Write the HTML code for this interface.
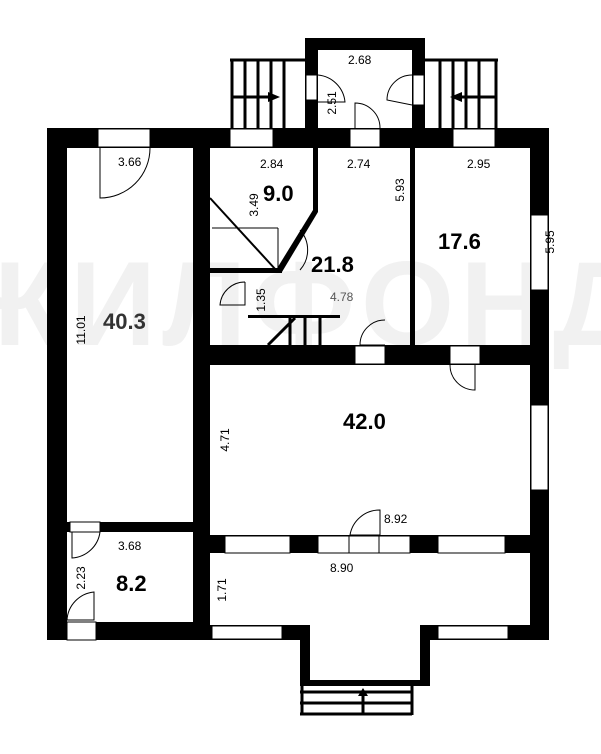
<!DOCTYPE html>
<html><head><meta charset="utf-8"><style>body{margin:0;background:#fff}svg{display:block}text{font-family:"Liberation Sans",sans-serif}</style></head><body>
<svg width="601" height="754" viewBox="0 0 601 754">
<text x="300" y="345" font-size="120" font-weight="bold" fill="#f1f1f1" text-anchor="middle" letter-spacing="6">ЖИЛФОНД</text>
<g fill="#000">
<rect x="47" y="128" width="502" height="20"/>
<rect x="47" y="128" width="20" height="512"/>
<rect x="530" y="128" width="19" height="512"/>
<rect x="193" y="148" width="17" height="492"/>
<rect x="47" y="622" width="163" height="18"/>
<rect x="67" y="522" width="126" height="10"/>
<rect x="193" y="345" width="356" height="20"/>
<rect x="210" y="535" width="320" height="18"/>
<rect x="210" y="625" width="90" height="15"/>
<rect x="430" y="625" width="119" height="15"/>
<rect x="300" y="625" width="10" height="60"/>
<rect x="420" y="625" width="10" height="60"/>
<rect x="300" y="680" width="130" height="6"/>
<rect x="305" y="38" width="120" height="12"/>
<rect x="305" y="38" width="13" height="90"/>
<rect x="412" y="38" width="13" height="90"/>
<rect x="410" y="148" width="5" height="200"/>
<rect x="313" y="148" width="5" height="64"/>
<polygon points="313,210 318,212 282,272 276,270"/>
<rect x="210" y="268" width="72" height="5"/>
<rect x="248" y="315" width="92" height="3"/>
</g>
<g fill="#fff" stroke="#000" stroke-width="1">
<rect x="98" y="129" width="52" height="18"/>
<rect x="230" y="129" width="43" height="18"/>
<rect x="350" y="129" width="30" height="18"/>
<rect x="453" y="129" width="42" height="18"/>
<rect x="531" y="215" width="17" height="75"/>
<rect x="531" y="405" width="17" height="85"/>
<rect x="355" y="346" width="30" height="18"/>
<rect x="450" y="346" width="30" height="18"/>
<rect x="70" y="522" width="30" height="10"/>
<rect x="67" y="622" width="29" height="18"/>
<rect x="225" y="536" width="65" height="17"/>
<rect x="318" y="536" width="92" height="17"/>
<rect x="438" y="536" width="67" height="17"/>
<rect x="212" y="626" width="70" height="13"/>
<rect x="438" y="626" width="70" height="13"/>
<rect x="306" y="75" width="11" height="25"/>
<rect x="413" y="75" width="11" height="30"/>
</g>
<g stroke="#000" stroke-width="1" fill="none">
<line x1="349" y1="536" x2="349" y2="553"/><line x1="379" y1="536" x2="379" y2="553"/>
<path d="M150,148 A50,50 0 0 1 100,198 L100,148"/>
<path d="M380,510 A30,30 0 0 0 350,535 L380,535 Z"/>
<path d="M100,532 A30,30 0 0 1 72,558 L72,532"/>
<path d="M94,592 A30,30 0 0 0 67,620 L94,620 Z"/>
<path d="M450,365 A25,25 0 0 0 475,390 L475,365"/>
<path d="M385,320 A25,25 0 0 0 360,345 L385,345"/>
<path d="M318,75 A30,30 0 0 1 345,102 L318,102"/>
<path d="M380,128 A25,25 0 0 0 355,103 L355,128"/>
<path d="M412,75 A25,25 0 0 0 387,100 L412,105"/>
<path d="M300,230 A30,30 0 0 1 300,270"/>
<path d="M245,282 A25,25 0 0 0 220,305 L245,305 L245,282"/>
<line x1="210" y1="198" x2="276" y2="270" stroke-width="2"/>
<line x1="212" y1="228" x2="278" y2="228"/>
<line x1="278" y1="228" x2="278" y2="268"/>
</g>
<g stroke="#000" stroke-width="3" fill="none">
<line x1="230" y1="60" x2="305" y2="60"/>
<line x1="425" y1="60" x2="498" y2="60"/>
<line x1="232" y1="60" x2="232" y2="128"/><line x1="245" y1="60" x2="245" y2="128"/><line x1="258" y1="60" x2="258" y2="128"/><line x1="271" y1="60" x2="271" y2="128"/><line x1="284" y1="60" x2="284" y2="128"/>
<line x1="232" y1="97" x2="275" y2="97"/>
<line x1="440" y1="60" x2="440" y2="128"/><line x1="453" y1="60" x2="453" y2="128"/><line x1="466" y1="60" x2="466" y2="128"/><line x1="479" y1="60" x2="479" y2="128"/><line x1="496" y1="60" x2="496" y2="128"/>
<line x1="455" y1="97" x2="496" y2="97"/>
<line x1="300" y1="692" x2="412" y2="692"/><line x1="300" y1="703" x2="412" y2="703"/><line x1="300" y1="714" x2="412" y2="714"/>
<line x1="302" y1="684" x2="302" y2="715"/><line x1="412" y1="684" x2="412" y2="715"/>
<line x1="363" y1="695" x2="363" y2="715"/>
<line x1="290" y1="318" x2="290" y2="345"/><line x1="305" y1="318" x2="305" y2="345"/><line x1="320" y1="318" x2="320" y2="345"/>
<line x1="268" y1="345" x2="295" y2="318"/>
</g>
<g fill="#000"><polygon points="268,92 280,97 268,102"/><polygon points="462,92 450,97 462,102"/><polygon points="358,696 363,688 368,696"/></g>
<g font-size="12" fill="#000">
<text x="118" y="166">3.66</text><text x="260" y="168">2.84</text><text x="347" y="168">2.74</text><text x="467" y="168">2.95</text>
<text x="348" y="64">2.68</text><text x="118" y="550">3.68</text><text x="384" y="523">8.92</text><text x="330" y="572">8.90</text>
<text x="330" y="301" fill="#555">4.78</text>
<g text-anchor="middle">
<text transform="translate(85,330) rotate(-90)">11.01</text>
<text transform="translate(258,205) rotate(-90)">3.49</text>
<text transform="translate(336,103) rotate(-90)">2.51</text>
<text transform="translate(404,190) rotate(-90)">5.93</text>
<text transform="translate(554,242) rotate(-90)">5.95</text>
<text transform="translate(265,300) rotate(-90)">1.35</text>
<text transform="translate(229,440) rotate(-90)">4.71</text>
<text transform="translate(85,578) rotate(-90)">2.23</text>
<text transform="translate(226,590) rotate(-90)">1.71</text>
</g></g>
<g font-size="22" font-weight="bold" fill="#000">
<text x="103" y="329" fill="#333">40.3</text><text x="263" y="201">9.0</text><text x="311" y="272">21.8</text><text x="438" y="249">17.6</text><text x="343" y="429">42.0</text><text x="116" y="591">8.2</text>
</g>
</svg>
</body></html>
